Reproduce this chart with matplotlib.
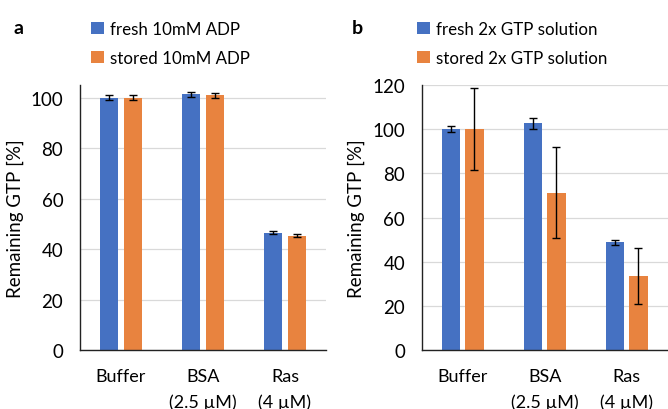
import numpy as np
import matplotlib
matplotlib.use('Agg')
import matplotlib.pyplot as plt

plt.rcParams['font.family'] = ['Lato', 'DejaVu Sans']

CATEGORIES = ['Buffer', 'BSA\n(2.5 µM)', 'Ras\n(4 µM)']

# panel a: ADP stock
ADP_LABELS = ['fresh 10mM ADP', 'stored 10mM ADP']
ADP_FRESH = [100.0, 101.3, 46.5]
ADP_FRESH_ERR = [1.0, 0.9, 0.7]
ADP_STORED = [100.0, 100.9, 45.2]
ADP_STORED_ERR = [1.0, 1.0, 0.6]

# panel b: 2x GTP solution
GTP_LABELS = ['fresh 2x GTP solution', 'stored 2x GTP solution']
GTP_FRESH = [100.0, 102.6, 48.7]
GTP_FRESH_ERR = [1.4, 2.3, 1.2]
GTP_STORED = [100.0, 71.3, 33.5]
GTP_STORED_ERR = [18.5, 20.6, 12.7]

BLUE = '#4571C2'
ORANGE = '#E8833F'


def draw_panel(ax, fresh, fresh_err, stored, stored_err, labels, ymax, step):
    x = np.arange(len(CATEGORIES))
    width = 0.225
    offset = 0.143
    err_kw = dict(ecolor='black', elinewidth=1.0, capsize=3, capthick=1.0)
    b1 = ax.bar(x - offset, fresh, width, yerr=fresh_err, color=BLUE,
                error_kw=err_kw, label=labels[0], zorder=2)
    b2 = ax.bar(x + offset, stored, width, yerr=stored_err, color=ORANGE,
                error_kw=err_kw, label=labels[1], zorder=2)

    ax.set_xlim(-0.5, len(CATEGORIES) - 0.5)
    ax.set_ylim(0, ymax)
    ax.set_yticks(np.arange(0, ymax + 1, step))
    ax.set_xticks(x)
    ax.set_xticklabels(CATEGORIES, fontsize=13, linespacing=1.7)
    ax.tick_params(axis='both', length=0)
    ax.tick_params(axis='y', pad=12, labelsize=13.5)
    ax.tick_params(axis='x', pad=13)
    ax.yaxis.grid(True, color='#d9d9d9', linewidth=0.9, zorder=0)
    ax.set_axisbelow(True)
    for side in ['top', 'right']:
        ax.spines[side].set_visible(False)
    for side in ['left', 'bottom']:
        ax.spines[side].set_color('#222222')
        ax.spines[side].set_linewidth(1.0)
    ax.set_ylabel('Remaining GTP [%]', fontsize=13.5, labelpad=5)
    return b1, b2


fig = plt.figure(figsize=(6.68, 4.10), dpi=100)
ax_a = fig.add_axes([80 / 668, 59 / 410, 246 / 668, 265 / 410])
ax_b = fig.add_axes([421.7 / 668, 59 / 410, 246 / 668, 265 / 410])

draw_panel(ax_a, ADP_FRESH, ADP_FRESH_ERR, ADP_STORED, ADP_STORED_ERR,
           ADP_LABELS, 105, 20)
ax_a.set_yticks(np.arange(0, 101, 20))
draw_panel(ax_b, GTP_FRESH, GTP_FRESH_ERR, GTP_STORED, GTP_STORED_ERR,
           GTP_LABELS, 120, 20)

legend_kw = dict(frameon=False, fontsize=12.2, handlelength=0.75,
                 handleheight=0.75, handletextpad=0.35, labelspacing=0.75,
                 borderpad=0, borderaxespad=0, loc='upper left')
ax_a.legend(bbox_to_anchor=(91 / 668, 1 - 22 / 410),
            bbox_transform=fig.transFigure, **legend_kw)
ax_b.legend(bbox_to_anchor=(417 / 668, 1 - 22 / 410),
            bbox_transform=fig.transFigure, **legend_kw)

fig.text(14 / 668, 1 - 29 / 410, 'a', fontsize=14, fontweight='bold', va='center')
fig.text(352 / 668, 1 - 29 / 410, 'b', fontsize=14, fontweight='bold', va='center')

fig.savefig('out.png', dpi=100)
